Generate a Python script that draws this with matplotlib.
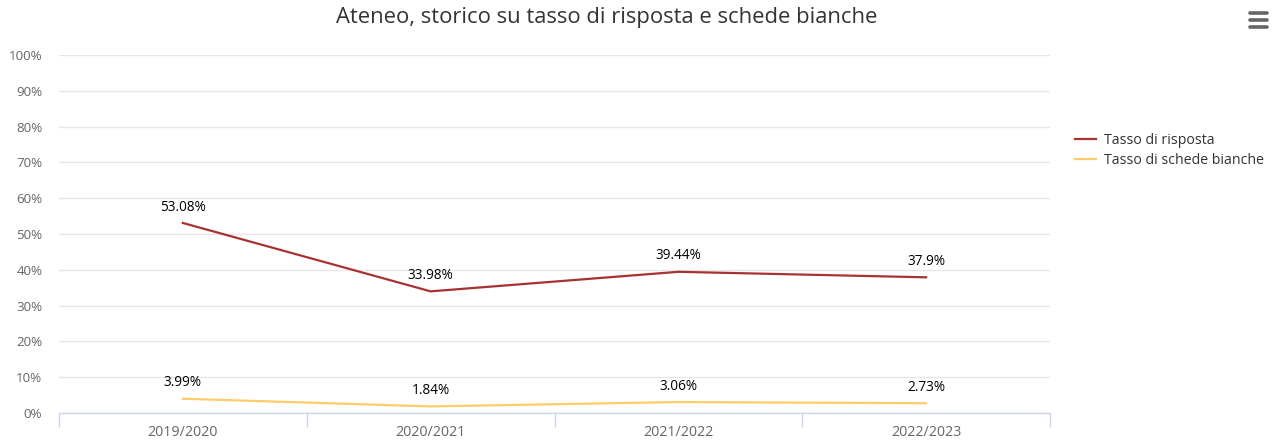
import matplotlib.pyplot as plt
import matplotlib as mpl
from matplotlib.ticker import FuncFormatter, FixedLocator

mpl.rcParams['font.family'] = ['Open Sans', 'DejaVu Sans']

anni = ['2019/2020', '2020/2021', '2021/2022', '2022/2023']
tasso_risposta = [53.08, 33.98, 39.44, 37.9]
schede_bianche = [3.99, 1.84, 3.06, 2.73]
etichette_risposta = ['53.08%', '33.98%', '39.44%', '37.9%']
etichette_bianche = ['3.99%', '1.84%', '3.06%', '2.73%']

col_rosso = '#a83232'
col_giallo = '#fdcd6a'

fig = plt.figure(figsize=(12.77, 4.41), dpi=100)
ax = fig.add_axes([59/1277, 1-413/441, (1050-59)/1277, (413-55)/441])

x = list(range(len(anni)))
ax.plot(x, tasso_risposta, color=col_rosso, lw=1.6, label='Tasso di risposta', zorder=3)
ax.plot(x, schede_bianche, color=col_giallo, lw=1.6, label='Tasso di schede bianche', zorder=3)

for xi, v, t in zip(x, tasso_risposta, etichette_risposta):
    ax.annotate(t, (xi, v), xytext=(0, 6), textcoords='offset points',
                ha='center', va='bottom', fontsize=9.8, color='#000000')
for xi, v, t in zip(x, schede_bianche, etichette_bianche):
    ax.annotate(t, (xi, v), xytext=(0, 6), textcoords='offset points',
                ha='center', va='bottom', fontsize=9.8, color='#000000')

ax.set_xlim(-0.5, 3.5)
ax.set_ylim(0, 100)
ax.set_yticks(range(0, 101, 10))
ax.yaxis.set_major_formatter(FuncFormatter(lambda v, p: '%d%%' % v))
ax.set_xticks(x)
ax.set_xticklabels(anni)
ax.xaxis.set_minor_locator(FixedLocator([-0.5, 0.5, 1.5, 2.5, 3.5]))
ax.tick_params(axis='x', which='major', length=0, pad=9, labelsize=10.3, labelcolor='#666666')
ax.tick_params(axis='x', which='minor', length=10, width=1, color='#ccd6eb')
ax.tick_params(axis='y', length=0, pad=12, labelsize=9.6, labelcolor='#666666')
for lab in ax.get_yticklabels():
    lab.set_horizontalalignment('right')

ax.grid(axis='y', color='#e6e6e6', lw=1)
ax.set_axisbelow(True)
for s in ['top', 'right', 'left']:
    ax.spines[s].set_visible(False)
ax.spines['bottom'].set_color('#ccd6eb')
ax.spines['bottom'].set_linewidth(1)

fig.text(607/1277, 1-18/441, 'Ateneo, storico su tasso di risposta e schede bianche',
         ha='center', va='center', fontsize=15.8, color='#333333')

fig.legend(loc='upper left', bbox_to_anchor=(1062/1277, 1-120/441), frameon=False,
           fontsize=10.2, handlelength=1.5, handletextpad=0.55, labelspacing=0.35,
           labelcolor='#333333')

# menu icon
for yy in [13, 20, 27]:
    fig.add_artist(plt.Line2D([1250/1277, 1267/1277], [1-yy/441, 1-yy/441],
                              color='#666666', lw=2.6, solid_capstyle='round'))

fig.savefig('out.png', dpi=100)
